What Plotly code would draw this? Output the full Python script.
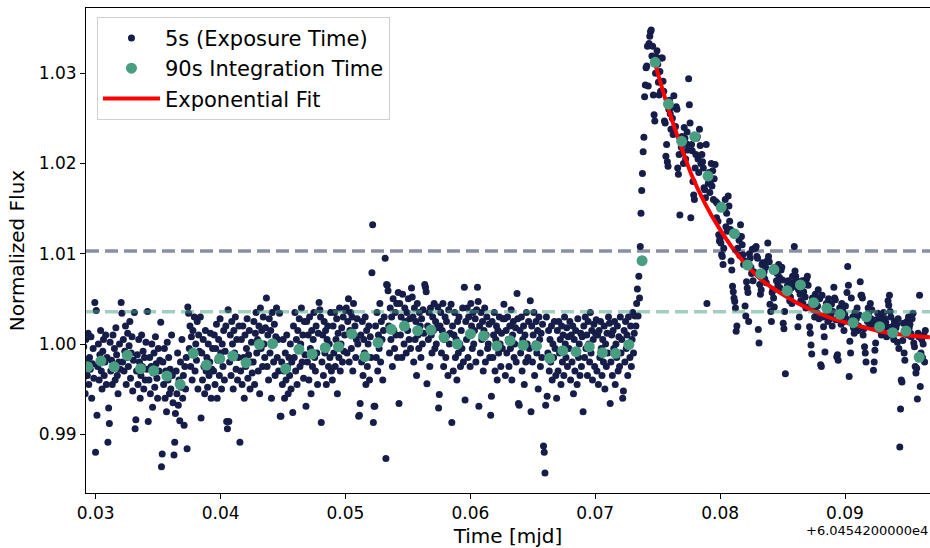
import plotly.graph_objects as go

MJD_OFFSET = 60454.2          # matplotlib offset "+6.0454200000e4"
EXPOSURE_DAYS = 5.0 / 86400.0  # 5 s exposure cadence

# 90 s integration points: time (mjd - offset) and normalized flux
bin_time = [0.02936, 0.03042, 0.03147, 0.03253, 0.03359, 0.03464, 0.03570, 0.03676,
            0.03781, 0.03887, 0.03993, 0.04098, 0.04204, 0.04310, 0.04416, 0.04521,
            0.04627, 0.04733, 0.04838, 0.04944, 0.05050, 0.05155, 0.05261, 0.05367,
            0.05472, 0.05578, 0.05684, 0.05789, 0.05895, 0.06001, 0.06106, 0.06212,
            0.06318, 0.06423, 0.06529, 0.06635, 0.06740, 0.06846, 0.06952, 0.07057,
            0.07163, 0.07269, 0.07375, 0.07480, 0.07586, 0.07692, 0.07797, 0.07903,
            0.08009, 0.08114, 0.08220, 0.08326, 0.08431, 0.08537, 0.08643, 0.08748,
            0.08854, 0.08960, 0.09065, 0.09171, 0.09277, 0.09382, 0.09488, 0.09594]
bin_flux = [0.99748, 0.99812, 0.99748, 0.99875, 0.99726, 0.99704, 0.99645, 0.99553,
            0.99897, 0.99767, 0.99837, 0.99867, 0.99793, 0.99997, 1.00003, 0.99726,
            0.99941, 0.99889, 0.99959, 0.99970, 1.00111, 0.99859, 1.00014, 1.00163,
            1.00199, 1.00147, 1.00155, 1.00074, 1.00000, 1.00111, 1.00089, 0.99978,
            1.00037, 0.99986, 0.99978, 0.99842, 0.99926, 0.99915, 0.99970, 0.99904,
            0.99897, 0.99992, 1.00923, 1.03121, 1.02659, 1.02246, 1.02297, 1.01861,
            1.01515, 1.01222, 1.00875, 1.00779, 1.00825, 1.00591, 1.00654, 1.00458,
            1.00396, 1.00329, 1.00236, 1.00302, 1.00192, 1.00125, 1.00144, 0.99853]

# 5 s exposures: flux deviation from 1.0 in units of 1e-4, 18 exposures per 90 s bin (rows = bins)
exp_dev_1e4 = [
    [-95, -10, -40, -3, -30, -55, 5, -20, -35, 12, -45, -15, -28, 8, -60, -22, -5, -38],
    [46, -120, 37, -79, -25, 0, -40, -12, 15, -30, -50, -8, 5, -35, -20, 10, -45, -15],
    [-109, -71, -88, 2, -30, -18, -45, 10, -25, -5, -40, 18, -12, -35, -55, -20, 0, -28],
    [46, 34, -20, 5, -30, -8, 20, -45, -15, 12, -25, -2, 25, -38, -10, 8, -52, -18],
    [35, -94, -84, -30, -12, -45, 5, -20, -60, -35, 10, -25, -8, -50, -15, -40, 2, -28],
    [36, -86, -40, -15, -55, -25, 0, -70, -32, -10, -48, 8, -22, -38, -60, -5, -30, -18],
    [24, -136, -122, -20, -45, -5, -60, -30, -75, 2, -40, -15, -55, -28, -50, 10, -35, -65],
    [-123, -109, -77, -30, -55, -10, -68, -40, -85, -20, -48, 5, -60, -35, -90, -25, -50, -15],
    [-116, 41, 34, -5, 20, -25, 8, -40, 15, -12, 30, -30, 0, -18, 25, -50, 10, -8],
    [30, -82, -10, -40, 5, -25, -55, 15, -30, -15, -48, 0, -35, -20, 12, -60, -28, -5],
    [-30, 10, -45, -5, 22, -60, -18, 5, -35, 28, -10, -50, 0, -25, 15, -40, -8, 20],
    [-86, -94, 38, -86, -20, 10, -35, 25, 0, -50, 15, -10, 30, -28, 5, -40, -15, 20],
    [-109, -30, 5, -45, 20, -15, -60, 10, -25, -5, 28, -38, -12, 15, -50, -20, 2, -32],
    [-20, 25, -45, 12, 35, -10, 5, -30, 20, -55, 40, -5, 15, -25, 30, 0, -15, 18],
    [51, -25, 10, -40, 28, -10, 15, -60, 35, 0, -20, 22, -35, 8, 40, -15, 5, -30],
    [34, -80, -80, -20, -45, 5, -30, -60, -10, -40, 10, -25, -55, -15, -35, 0, -50, -20],
    [-76, 20, -15, 35, -30, 5, -45, 15, -5, 28, -25, 0, 40, -20, 10, -38, 25, -12],
    [-69, 25, -20, 10, -40, 30, -5, -55, 15, -25, 5, 35, -15, -30, 20, -10, -45, 12],
    [46, 38, 30, -87, -20, 10, -35, 25, -10, 15, -45, 5, 20, -25, 0, -15, 35, -30],
    [-40, 20, -10, 35, -25, 5, 28, -55, 12, -15, 40, -30, 0, 18, -20, 30, -8, 10],
    [37, 40, -10, 25, 50, -20, 15, 35, -5, 30, -30, 45, 10, 20, -15, 5, 28, 0],
    [-80, -79, -66, 10, -20, 25, -35, 5, -10, 30, -45, 15, -25, 0, 20, -40, 8, -15],
    [79, 132, -87, -69, -69, 20, -15, 35, -30, 10, -5, 45, -20, 25, 5, -40, 15, 30],
    [95, -127, 66, 65, 59, 20, -10, 40, 5, 30, -25, 50, 15, -5, 35, 10, 45, -15],
    [57, -66, 45, 10, 30, -15, 55, 20, 0, 40, 25, -10, 35, 15, 50, 5, 28, -5],
    [62, 52, 30, -20, 40, 5, 25, -35, 45, 10, -5, 35, 20, -15, 28, 0, 38, 12],
    [66, 63, 58, -44, 20, 5, 35, -25, 40, 10, -10, 30, 15, 45, -5, 25, 0, 18],
    [41, -71, -56, 20, 35, -10, 15, 45, -25, 5, 30, -15, 25, 10, -35, 38, 0, 12],
    [44, -87, 20, -30, 10, 35, -15, 5, -40, 25, -10, 30, 0, -25, 15, -5, 40, -20],
    [63, -62, 25, 5, 40, -15, 30, 10, -25, 45, 20, -5, 35, 0, 15, 28, -20, 38],
    [63, 47, -69, 20, -10, 35, 5, 25, -30, 15, 40, -20, 10, 30, -5, 0, 22, -15],
    [-79, -58, 25, -15, 10, 35, -30, 5, 20, -40, 15, -10, 30, 0, -25, 12, -5, 28],
    [44, 28, -35, 15, -10, 30, 5, -25, 20, -5, 38, -40, 10, 25, -15, 0, 18, -20],
    [56, 28, -66, -68, 15, -10, 30, -30, 5, 20, -45, 10, -20, 35, 0, -15, 25, -5],
    [48, -75, 20, -20, 10, 35, -35, 0, 25, -10, 15, -50, 30, 5, -25, 12, -15, 22],
    [-113, -120, -143, -68, 30, -58, -10, 15, -30, 5, -20, 20, -40, 0, -15, 25, -5, -35],
    [-60, 15, -30, 25, -10, 5, -45, 20, -20, 10, -35, 30, 0, -15, 18, -25, 8, -5],
    [25, -40, 10, -20, 20, -55, 5, -30, 15, -10, -45, 28, -15, 0, -35, 12, -25, 8],
    [-75, 20, -15, 30, -5, 10, -35, 25, 0, -20, 35, -10, 15, -40, 5, 22, -25, 12],
    [27, -30, 10, -45, 15, -15, 25, -5, -35, 5, -20, 20, -50, 0, -25, 12, -10, 30],
    [23, -66, -20, 10, -35, 15, -5, 25, -45, 0, -15, 20, -30, 8, -25, 30, -10, 5],
    [-60, -52, 15, -20, 25, -5, 10, -35, 30, 0, -15, 20, -25, 5, 35, -10, 12, 31],
    [20, 45, 61, 31, 75, 51, 108, 145, 170, 189, 213, 229, 274, 287, 306, 308, 330, 286],
    [333, 341, 346, 348, 319, 330, 276, 254, 247, 300, 318, 325, 310, 290, 276, 302, 280, 317],
    [317, 291, 280, 247, 245, 208, 221, 202, 197, 260, 270, 255, 238, 262, 250, 232, 275, 240],
    [241, 263, 260, 195, 188, 210, 143, 225, 218, 230, 212, 200, 240, 228, 205, 222, 235, 215],
    [294, 265, 245, 140, 221, 214, 180, 165, 160, 195, 210, 228, 230, 205, 190, 238, 220, 200],
    [210, 202, 195, 173, 171, 162, 221, 45, 185, 178, 190, 168, 180, 200, 175, 192, 160, 183],
    [199, 158, 140, 156, 136, 121, 114, 117, 112, 99, 97, 88, 106, 150, 160, 130, 145, 125],
    [164, 153, 136, 127, 92, 82, 64, 58, 51, 47, 40, 14, 20, 106, 120, 115, 98, 132],
    [119, 110, 99, 88, 92, 42, 31, 69, 62, 57, 25, 100, 95, 85, 78, 105, 70, 80],
    [106, 106, 108, 97, 95, 16, 1, 66, 55, 60, 88, 90, 75, 80, 72, 85, 68, 92],
    [112, 97, 91, 44, 36, 25, 57, 60, 51, 41, 85, 80, 70, 78, 65, 88, 74, 62],
    [82, 85, 71, 23, 17, 36, -33, 60, 55, 65, 70, 58, 48, 52, 62, 45, 75, 68],
    [108, 81, 75, 71, 63, 19, 60, 30, 55, 48, 62, 70, 45, 58, 66, 52, 40, 72],
    [75, 65, 41, 19, 12, -1, -11, 51, 45, 38, 30, 55, 48, 35, 42, 60, 28, 50],
    [-23, -25, 54, 30, 19, 8, -9, 40, 45, 35, 25, 50, 38, 28, 32, 44, 20, 36],
    [63, 51, 49, 27, -14, -12, -18, 30, 40, 35, 22, 45, 38, 25, 15, 33, 42, 28],
    [57, 86, 65, -36, 3, -10, 51, 25, 30, 18, 12, 35, 22, 28, 40, 15, 20, 32],
    [69, 54, 54, 51, 10, 17, -3, -10, -20, 30, 25, 40, 35, 20, 45, 28, 38, 22],
    [-29, -20, -7, 1, 27, 19, 34, 20, 25, 15, 30, 10, 22, 18, 35, 12, 28, 24],
    [8, 19, 48, 43, 54, 36, 30, 10, 15, 20, 5, 25, 12, 18, 22, 2, 28, -5],
    [-114, -72, -40, -42, 4, 23, -10, -18, 15, 20, 25, 10, 30, 18, 22, 12, 8, 28],
    [34, 1, -3, -25, -32, -27, -61, 12, 8, 54, -47, -10, 5, -15, 0, 10, -20, 15],
]

# Exponential fit curve
fit_time = [0.074781, 0.075716, 0.076645, 0.077718, 0.078783, 0.079848, 0.080921, 0.081986,
            0.083323, 0.084652, 0.085989, 0.087326, 0.088927, 0.090529, 0.092659, 0.094796,
            0.096797]
fit_flux = [1.03110, 1.02667, 1.02279, 1.01873, 1.01559, 1.01300, 1.01078, 1.00894,
            1.00709, 1.00580, 1.00469, 1.00377, 1.00285, 1.00222, 1.00144, 1.00100,
            1.00074]

# Reference levels (dashed)
level_high = 1.01030
level_low = 1.00358

# --- assemble 5 s exposures (each row spans its 90 s bin) ---
exp_t, exp_f = [], []
for bt, row in zip(bin_time, exp_dev_1e4):
    n = len(row)
    for j, d in enumerate(row):
        exp_t.append(bt + (j - (n - 1) / 2) * EXPOSURE_DAYS)
        exp_f.append(1.0 + d * 1e-4)

NAVY = "#161d48"
GREEN = "#479e80"
FONT = "DejaVu Sans"

fig = go.Figure()
fig.add_trace(go.Scatter(x=exp_t, y=exp_f, mode="markers", name="5s (Exposure Time)",
                         marker=dict(color=NAVY, size=7, line=dict(width=0)), legendrank=1))
fig.add_trace(go.Scatter(x=fit_time, y=fit_flux, mode="lines", name="Exponential Fit",
                         line=dict(color="red", width=4, shape="spline", smoothing=0.8),
                         legendrank=3))
fig.add_trace(go.Scatter(x=bin_time, y=bin_flux, mode="markers", name="90s Integration Time",
                         marker=dict(color=GREEN, size=11, line=dict(width=0)), legendrank=2))

for lvl, col in [(level_high, "rgba(22,29,72,0.5)"), (level_low, "rgba(71,158,128,0.5)")]:
    fig.add_shape(type="line", xref="paper", x0=0, x1=1, yref="y", y0=lvl, y1=lvl,
                  line=dict(color=col, width=3.5, dash="13px,6px"), layer="above")

axis_common = dict(showline=True, linecolor="black", linewidth=1, mirror=True,
                   ticks="outside", ticklen=5, tickwidth=1, tickcolor="black",
                   showgrid=False, zeroline=False,
                   tickfont=dict(family=FONT, size=17, color="black"))

fig.update_xaxes(range=[0.029223, 0.096806],
                 tickvals=[0.03, 0.04, 0.05, 0.06, 0.07, 0.08, 0.09],
                 ticktext=["0.03", "0.04", "0.05", "0.06", "0.07", "0.08", "0.09"],
                 title=dict(text="Time [mjd]", font=dict(family=FONT, size=20, color="black"), standoff=6),
                 **axis_common)
fig.update_yaxes(range=[0.98349, 1.03723], dtick=0.01, tick0=1.0, tickformat=".2f",
                 title=dict(text="Normalized Flux", font=dict(family=FONT, size=20, color="black"), standoff=8),
                 **axis_common)

fig.add_annotation(text="+6.0454200000e4", xref="paper", yref="paper", x=1.0, y=-0.078,
                   xanchor="right", yanchor="middle", showarrow=False,
                   font=dict(family=FONT, size=13, color="black"))

fig.update_layout(
    width=930, height=548,
    margin=dict(l=86, r=0, t=8, b=55),
    plot_bgcolor="white", paper_bgcolor="white",
    font=dict(family=FONT, color="black"),
    legend=dict(x=0.013, y=0.982, xanchor="left", yanchor="top",
                bgcolor="rgba(255,255,255,0.8)", bordercolor="#d0d0d0", borderwidth=1,
                font=dict(family=FONT, size=21, color="black"), itemwidth=57,
                traceorder="normal"),
    showlegend=True,
)

fig.write_html("out.html",
               config={"displayModeBar": False},
               post_script="document.body.style.margin='0';document.body.style.overflow='hidden';")
